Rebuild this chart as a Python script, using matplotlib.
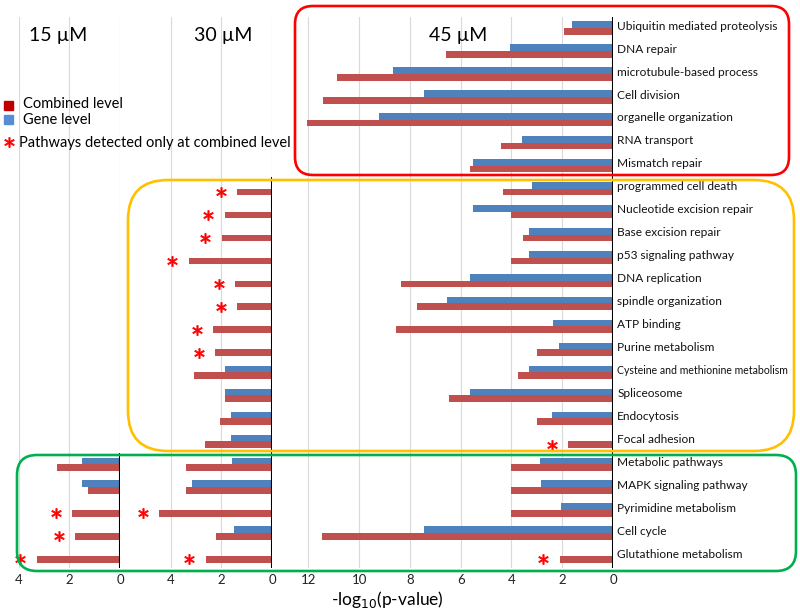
import numpy as np
import matplotlib
matplotlib.use('Agg')
import matplotlib.pyplot as plt
from matplotlib.patches import FancyBboxPatch, Rectangle
from matplotlib.transforms import IdentityTransform

plt.rcParams['font.family'] = ['Lato', 'DejaVu Sans']

nan = np.nan

pathways = [
    'Ubiquitin mediated proteolysis', 'DNA repair', 'microtubule-based process',
    'Cell division', 'organelle organization', 'RNA transport', 'Mismatch repair',
    'programmed cell death', 'Nucleotide excision repair', 'Base excision repair',
    'p53 signaling pathway', 'DNA replication', 'spindle organization', 'ATP binding',
    'Purine metabolism', 'Cysteine and methionine metabolism', 'Spliceosome',
    'Endocytosis', 'Focal adhesion', 'Metabolic pathways', 'MAPK signaling pathway',
    'Pyrimidine metabolism', 'Cell cycle', 'Glutathione metabolism',
]

# -log10(p-value), top to bottom
gene_15 = [nan] * 19 + [1.51, 1.51, nan, nan, nan]
comb_15 = [nan] * 19 + [2.49, 1.28, 1.88, 1.77, 3.29]

gene_30 = [nan] * 15 + [1.86, 1.86, 1.62, 1.62, 1.59, 3.16, nan, 1.50, nan]
comb_30 = [nan] * 7 + [1.38, 1.86, 1.98, 3.28, 1.46, 1.38, 2.33, 2.25, 3.08,
                       1.84, 2.06, 2.65, 3.41, 3.41, 4.45, 2.23, 2.61]

gene_45 = [1.60, 4.05, 8.66, 7.44, 9.21, 3.58, 5.51, 3.19, 5.51, 3.31, 3.31, 5.63,
           6.54, 2.36, 2.13, 3.31, 5.63, 2.40, nan, 2.89, 2.83, 2.04, 7.46, nan]
comb_45 = [1.93, 6.57, 10.87, 11.42, 12.05, 4.41, 5.63, 4.33, 4.02, 3.54, 4.02, 8.35,
           7.72, 8.54, 2.99, 3.74, 6.46, 2.99, 1.77, 4.03, 4.03, 4.03, 11.46, 2.10]

panel_titles = ['15 µM', '30 µM', '45 µM']

BLUE = '#4F81BD'
RED = '#C0504D'

W, H = 800, 614
fig = plt.figure(figsize=(W / 100, H / 100), dpi=100)


def px_axes(x0, x1, y0, y1):
    # image pixel coords (y from top) -> figure fraction
    return fig.add_axes([x0 / W, 1 - y1 / H, (x1 - x0) / W, (y1 - y0) / H])


top, bottom = 16.5, 567.5
panels = [
    (px_axes(18.5, 120, top, bottom), gene_15, comb_15, 4.0, [0, 2, 4]),
    (px_axes(120, 272, top, bottom), gene_30, comb_30, 6.0, [0, 2, 4]),
    (px_axes(272, 613, top, bottom), gene_45, comb_45, 13.43, list(range(0, 13, 2))),
]

y = np.arange(len(pathways))
h = 0.29
star = dict(marker='$*$', s=50, color='red', edgecolors='red', linewidths=0.6)
for ax, gene, comb, xmax, ticks in panels:
    gene = np.array(gene)
    comb = np.array(comb)
    ax.barh(y - h / 2, gene, height=h, color=BLUE, zorder=3)
    ax.barh(y + h / 2, comb, height=h, color=RED, zorder=3)
    # asterisk: pathway found only at the combined level
    only = np.isnan(gene) & ~np.isnan(comb)
    ax.scatter(comb[only] + 0.65, y[only] + h / 2, zorder=4, clip_on=False, **star)
    rows = np.where(~np.isnan(gene) | ~np.isnan(comb))[0]
    ax.vlines(0, rows.min() - 0.5, rows.max() + 0.5, color='black', lw=1.5, zorder=5)
    ax.set_xlim(xmax, 0)
    ax.set_ylim(len(pathways) - 0.5, -0.5)
    ax.set_xticks(ticks)
    ax.set_xticklabels([str(t) for t in ticks], fontsize=9.5, color='#222222')
    ax.tick_params(axis='x', length=0, pad=5)
    ax.set_yticks([])
    ax.grid(axis='x', color='#DADADA', lw=0.8, zorder=0)
    ax.set_axisbelow(True)
    for s in ax.spines.values():
        s.set_visible(False)
    ax.patch.set_alpha(0)

ax3 = panels[2][0]
for i, name in enumerate(pathways):
    fs = 7.6 if len(name) > 31 else 8.6
    ax3.text(-0.17, i - 0.08, name, ha='left', va='center', fontsize=fs,
             color='#111111', clip_on=False)

# panel titles
for xc, t in zip([58, 223, 458], panel_titles):
    fig.text(xc / W, 1 - 35 / H, t, ha='center', va='center', fontsize=14)

fig.text(387 / W, 1 - 599 / H, r'-log$_{10}$(p-value)', ha='center', va='center',
         fontsize=12.5)

# legend
fig.patches.append(Rectangle((4, H - 110), 9, 9, transform=IdentityTransform(),
                             color='#C00000'))
fig.patches.append(Rectangle((4, H - 124), 9, 9, transform=IdentityTransform(),
                             color='#558ED5'))
fig.text(23 / W, 1 - 104 / H, 'Combined level', ha='left', va='center', fontsize=10.5)
fig.text(23 / W, 1 - 120 / H, 'Gene level', ha='left', va='center', fontsize=10.5)
leg_ax = fig.add_axes([0, 0, 1, 1], zorder=-1)
leg_ax.set_xlim(0, W)
leg_ax.set_ylim(H, 0)
leg_ax.axis('off')
leg_ax.scatter([9], [142], **star)
fig.text(19 / W, 1 - 143 / H, 'Pathways detected only at combined level', ha='left',
         va='center', fontsize=10.5)

# group boxes (image px: x0, x1, y0, y1, radius, colour)
boxes = [
    (295, 789, 6, 175, 18, '#FF0000'),
    (128, 794, 180, 451, 40, '#FFC000'),
    (17, 796, 455, 571, 20, '#00B050'),
]
for x0, x1, y0, y1, r, c in boxes:
    fig.patches.append(FancyBboxPatch(
        (x0, H - y1), x1 - x0, y1 - y0,
        boxstyle='round,pad=0,rounding_size=%d' % r,
        transform=IdentityTransform(), fill=False, edgecolor=c, lw=1.9, zorder=10))

fig.savefig('out.png', dpi=100)
